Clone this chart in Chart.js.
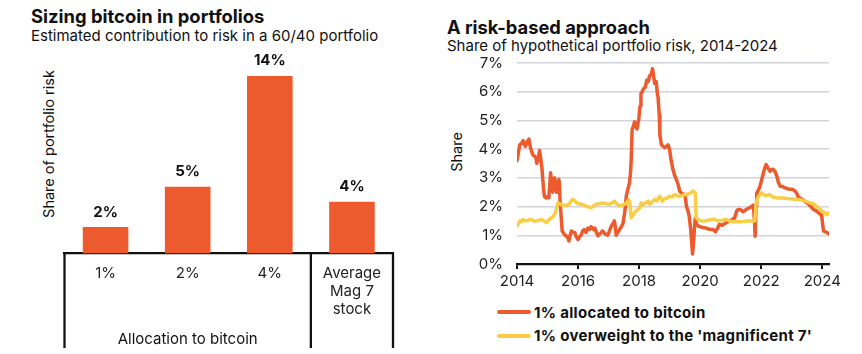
<!DOCTYPE html>
<html><head><meta charset="utf-8">
<script src="https://cdn.jsdelivr.net/npm/chart.js@4"></script>
<style>
body{margin:0;width:862px;height:354px;overflow:hidden;background:#fff;font-family:Inter,"Open Sans",sans-serif;color:#111;position:relative;}
.t{position:absolute;white-space:nowrap;line-height:1;}
.c{position:absolute;top:0;}
.lg{position:absolute;height:4px;border-radius:2px;width:34px;}
</style></head><body>
<div class="t" style="left:31px;top:7.3px;font-size:18.4px;font-weight:700">Sizing bitcoin in portfolios</div>
<div class="t" style="left:31px;top:27.8px;font-size:15px">Estimated contribution to risk in a 60/40 portfolio</div>
<div class="t" style="left:49px;top:144px;font-size:14.5px;transform:translate(-50%,-50%) rotate(-90deg)">Share of portfolio risk</div>

<div class="t" style="left:447px;top:17.6px;font-size:18.3px;font-weight:700">A risk-based approach</div>
<div class="t" style="left:447px;top:38.1px;font-size:15px">Share of hypothetical portfolio risk, 2014-2024</div>
<div class="t" style="left:456.5px;top:151.5px;font-size:14.5px;transform:translate(-50%,-50%) rotate(-90deg)">Share</div>

<div class="lg" style="left:497px;top:310.3px;background:#EC5A2D"></div>
<div class="t" style="left:534px;top:304.8px;font-size:15px;font-weight:700;letter-spacing:0.3px">1% allocated to bitcoin</div>
<div class="lg" style="left:497px;top:333.7px;background:#F9CE47"></div>
<div class="t" style="left:534px;top:328.3px;font-size:15px;font-weight:700;letter-spacing:0.3px">1% overweight to the 'magnificent 7'</div>

<canvas id="c1" class="c" style="left:0" width="430" height="354"></canvas>
<canvas id="c2" class="c" style="left:440px" width="422" height="354"></canvas>
<script>
const ORANGE = '#EC5A2D';
const YELLOW = '#F9CE47';
const FONT = 'Inter';

// Left chart data
const barCategories = ['1%', '2%', '4%', ['Average', 'Mag 7', 'stock']];
const barValues = [2.1, 5.3, 14.1, 4.1];
const barLabels = ['2%', '5%', '14%', '4%'];
const groupLabel = 'Allocation to bitcoin';

// Right chart data
const btcDates = [2014.00,2014.05,2014.09,2014.15,2014.20,2014.25,2014.28,2014.33,2014.39,2014.43,2014.47,2014.52,2014.58,2014.62,2014.65,2014.70,2014.74,2014.78,2014.82,2014.87,2014.90,2014.95,2015.00,2015.04,2015.07,2015.10,2015.13,2015.17,2015.20,2015.23,2015.27,2015.30,2015.34,2015.37,2015.39,2015.41,2015.45,2015.48,2015.54,2015.60,2015.65,2015.70,2015.74,2015.78,2015.84,2015.89,2015.94,2016.00,2016.05,2016.10,2016.15,2016.20,2016.26,2016.32,2016.38,2016.43,2016.50,2016.55,2016.60,2016.65,2016.72,2016.80,2016.88,2016.97,2017.03,2017.08,2017.14,2017.19,2017.22,2017.25,2017.30,2017.36,2017.42,2017.47,2017.53,2017.58,2017.63,2017.68,2017.72,2017.74,2017.77,2017.81,2017.85,2017.89,2017.93,2017.96,2017.99,2018.03,2018.06,2018.10,2018.14,2018.20,2018.25,2018.30,2018.34,2018.40,2018.44,2018.48,2018.51,2018.56,2018.60,2018.62,2018.66,2018.68,2018.73,2018.79,2018.84,2018.90,2018.95,2019.00,2019.05,2019.11,2019.16,2019.22,2019.27,2019.33,2019.40,2019.50,2019.55,2019.60,2019.64,2019.69,2019.72,2019.75,2019.78,2019.81,2019.84,2019.88,2019.93,2020.00,2020.08,2020.20,2020.30,2020.42,2020.50,2020.57,2020.63,2020.72,2020.80,2020.88,2020.96,2021.05,2021.13,2021.20,2021.24,2021.32,2021.40,2021.51,2021.60,2021.68,2021.74,2021.78,2021.80,2021.83,2021.85,2021.92,2021.96,2022.02,2022.07,2022.12,2022.16,2022.22,2022.29,2022.35,2022.40,2022.46,2022.51,2022.56,2022.62,2022.70,2022.78,2022.87,2022.95,2023.03,2023.11,2023.17,2023.22,2023.30,2023.38,2023.46,2023.55,2023.63,2023.71,2023.80,2023.87,2023.93,2023.98,2024.01,2024.04,2024.10,2024.15,2024.20,2024.24];
const btcShare = [3.6,3.9,4.15,4.2,4.3,4.15,4.1,4.25,4.35,4.1,3.95,3.8,3.75,3.7,3.5,3.7,3.95,3.65,3.3,2.6,2.35,2.3,2.35,2.3,2.7,3.18,2.9,2.5,2.7,3.0,2.8,2.5,2.6,2.95,2.8,2.2,1.6,1.15,1.05,0.98,0.95,0.8,1.0,1.15,1.1,1.1,0.95,0.85,0.95,1.0,1.15,1.2,1.1,1.25,1.2,1.3,1.2,1.25,1.1,0.98,1.05,1.15,1.05,1.0,1.15,1.3,1.4,1.5,1.3,1.0,1.1,1.2,1.3,1.4,1.8,2.36,2.6,2.8,3.2,3.6,4.67,4.8,4.95,4.8,4.7,4.9,5.05,5.5,5.94,6.0,6.1,6.15,6.4,6.35,6.55,6.6,6.8,6.5,6.29,6.35,5.9,5.82,5.2,4.5,4.15,4.1,4.05,4.1,4.15,3.98,3.6,3.29,3.1,2.94,2.8,2.54,2.45,2.42,2.02,1.85,1.67,1.21,0.8,0.35,0.7,1.21,1.6,1.38,1.33,1.3,1.27,1.25,1.21,1.2,1.12,1.25,1.38,1.35,1.4,1.45,1.5,1.55,1.61,1.85,1.9,1.9,1.82,1.9,1.95,2.0,2.05,1.5,0.97,2.0,2.46,2.6,2.71,2.95,3.17,3.35,3.46,3.35,3.23,3.3,3.29,3.2,3.06,2.85,2.71,2.7,2.65,2.62,2.6,2.6,2.54,2.45,2.3,2.28,2.22,2.16,2.08,2.0,1.9,1.85,1.79,1.74,1.7,1.4,1.15,1.12,1.1,1.06,1.04];
const magDates = [2014.00,2014.05,2014.10,2014.14,2014.20,2014.28,2014.35,2014.42,2014.47,2014.55,2014.63,2014.70,2014.80,2014.88,2014.96,2015.05,2015.13,2015.18,2015.23,2015.28,2015.34,2015.40,2015.48,2015.56,2015.64,2015.72,2015.78,2015.83,2015.90,2015.94,2016.02,2016.10,2016.20,2016.30,2016.36,2016.43,2016.50,2016.60,2016.70,2016.80,2016.90,2017.03,2017.10,2017.19,2017.26,2017.36,2017.44,2017.52,2017.60,2017.66,2017.70,2017.74,2017.80,2017.85,2017.90,2017.96,2018.02,2018.07,2018.12,2018.18,2018.24,2018.29,2018.35,2018.42,2018.51,2018.58,2018.68,2018.76,2018.84,2018.92,2019.00,2019.08,2019.16,2019.25,2019.33,2019.44,2019.55,2019.65,2019.72,2019.77,2019.84,2019.87,2019.95,2020.03,2020.15,2020.30,2020.45,2020.60,2020.75,2020.85,2020.95,2021.10,2021.25,2021.40,2021.55,2021.70,2021.79,2021.83,2021.88,2021.95,2022.01,2022.08,2022.15,2022.28,2022.40,2022.55,2022.72,2022.90,2023.05,2023.27,2023.45,2023.60,2023.70,2023.82,2023.92,2024.02,2024.09,2024.15,2024.20,2024.24];
const magShare = [1.33,1.4,1.5,1.48,1.55,1.5,1.52,1.55,1.55,1.5,1.5,1.52,1.55,1.5,1.44,1.55,1.61,1.65,1.73,1.85,2.13,2.1,2.05,2.05,2.05,2.1,2.2,2.25,2.2,2.13,2.1,2.08,2.05,2.0,1.98,1.96,2.02,2.08,2.1,2.13,2.1,2.08,2.12,2.19,2.1,2.02,2.05,2.08,2.15,2.25,2.1,1.61,1.7,1.79,1.85,1.9,1.95,2.13,2.05,2.1,2.15,2.19,2.08,2.15,2.25,2.2,2.36,2.19,2.28,2.3,2.36,2.33,2.42,2.38,2.36,2.4,2.42,2.45,2.5,2.54,2.48,1.6,1.55,1.5,1.5,1.53,1.56,1.5,1.53,1.56,1.5,1.47,1.47,1.48,1.5,1.5,1.5,2.1,2.3,2.4,2.48,2.42,2.38,2.42,2.32,2.3,2.3,2.27,2.26,2.24,2.19,2.13,2.1,2.0,1.9,1.82,1.78,1.72,1.78,1.77];

const barDecor = {
  id: 'barDecor',
  afterDatasetsDraw(chart) {
    const {ctx, chartArea: a, scales: {x}} = chart;
    const meta = chart.getDatasetMeta(0);
    ctx.save();
    ctx.fillStyle = '#111';
    ctx.textAlign = 'center';
    ctx.textBaseline = 'middle';
    ctx.font = '700 15px ' + FONT;
    meta.data.forEach((bar, i) => ctx.fillText(barLabels[i], bar.x, bar.y - 15));
    ctx.strokeStyle = '#111';
    ctx.lineWidth = 2.3;
    const sep = (x.getPixelForValue(2) + x.getPixelForValue(3)) / 2;
    [a.left, sep, a.right].forEach(px => {
      ctx.beginPath(); ctx.moveTo(px, a.bottom); ctx.lineTo(px, 348); ctx.stroke();
    });
    ctx.font = '400 15px ' + FONT;
    ctx.fillText(groupLabel, x.getPixelForValue(1), 339);
    ctx.restore();
  }
};

new Chart(document.getElementById('c1'), {
  type: 'bar',
  data: {
    labels: barCategories,
    datasets: [{data: barValues, backgroundColor: ORANGE, barPercentage: 0.555, categoryPercentage: 1}]
  },
  options: {
    responsive: false, animation: false,
    layout: {padding: {left: 64.5, right: 37, top: 52, bottom: 0}},
    plugins: {legend: {display: false}, tooltip: {enabled: false}},
    scales: {
      x: {
        afterFit(s) { s.height = 100.5; },
        grid: {display: false, drawTicks: false},
        border: {display: true, color: '#111', width: 2.3},
        ticks: {font: {family: FONT, size: 15}, color: '#222', padding: 11, maxRotation: 0, autoSkip: false}
      },
      y: {display: false, min: 0, max: 16}
    }
  },
  plugins: [barDecor]
});

new Chart(document.getElementById('c2'), {
  type: 'line',
  data: {
    datasets: [
      {label: '1% allocated to bitcoin', data: btcDates.map((d, i) => ({x: d, y: btcShare[i]})),
       borderColor: ORANGE, borderWidth: 3.5, pointRadius: 0, tension: 0, order: 2,
       borderJoinStyle: 'round', borderCapStyle: 'round'},
      {label: "1% overweight to the 'magnificent 7'", data: magDates.map((d, i) => ({x: d, y: magShare[i]})),
       borderColor: YELLOW, borderWidth: 3.5, pointRadius: 0, tension: 0, order: 1,
       borderJoinStyle: 'round', borderCapStyle: 'round'}
    ]
  },
  options: {
    responsive: false, animation: false,
    layout: {padding: {left: 0, right: 33, top: 63, bottom: 0}},
    plugins: {legend: {display: false}, tooltip: {enabled: false}},
    scales: {
      x: {
        type: 'linear', min: 2014, max: 2024.22,
        afterFit(s) { s.height = 90; },
        ticks: {stepSize: 2, includeBounds: false, callback: v => String(v), font: {family: FONT, size: 15}, color: '#222', padding: 3, maxRotation: 0, autoSkip: false},
        grid: {display: true, drawOnChartArea: false, drawTicks: true, tickLength: 5, color: '#111', lineWidth: 2},
        border: {display: true, color: '#111', width: 2.3}
      },
      y: {
        min: 0, max: 7,
        afterFit(s) { s.width = 77; },
        ticks: {stepSize: 1, callback: v => v + '%', font: {family: FONT, size: 15}, color: '#222', padding: 14},
        grid: {color: c => c.tick && c.tick.value === 0 ? 'rgba(0,0,0,0)' : '#d4d4db', lineWidth: 1.5, drawTicks: false},
        border: {display: false}
      }
    }
  }
});
</script>
</body></html>
